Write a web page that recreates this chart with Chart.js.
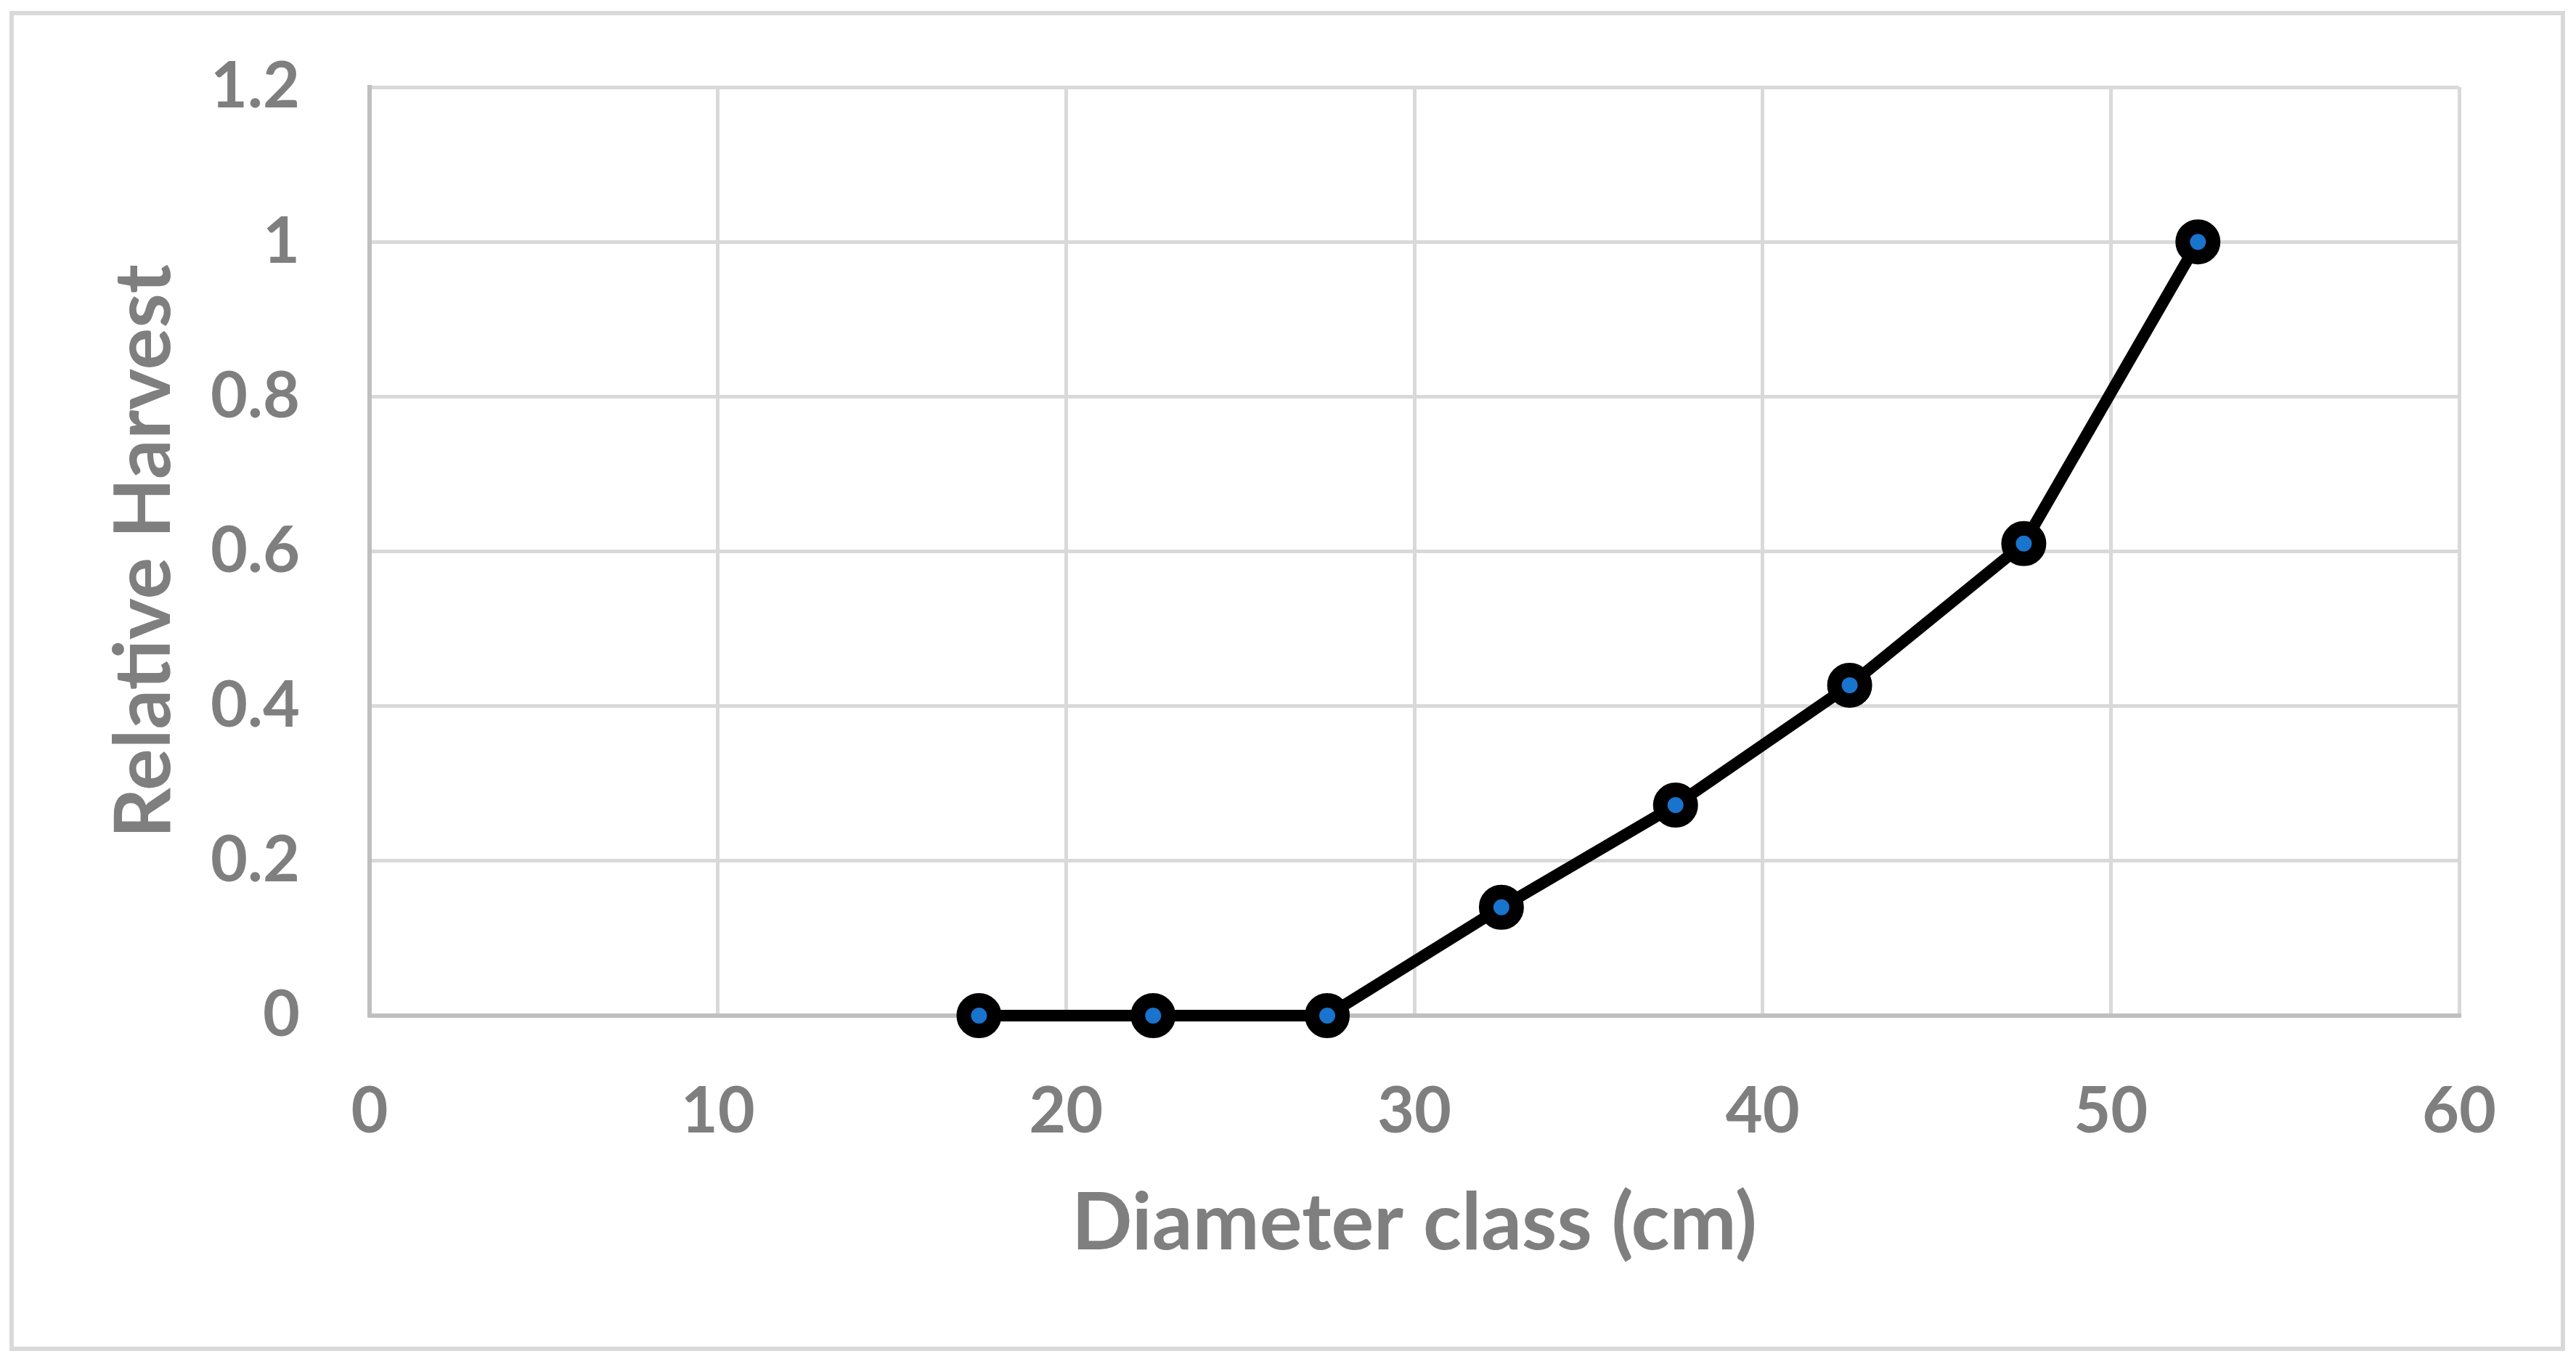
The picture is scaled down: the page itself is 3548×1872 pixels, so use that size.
<!DOCTYPE html>
<html>
<head>
<meta charset="utf-8">
<script src="https://cdn.jsdelivr.net/npm/chart.js@4/dist/chart.umd.min.js"></script>
<style>
  html, body { margin: 0; padding: 0; background: #fff; }
  #wrap { position: relative; width: 3548px; height: 1872px; }
  #frame {
    position: absolute; left: 13px; top: 15px; width: 3508px; height: 1834px;
    border: 6px solid #d9d9d9; pointer-events: none;
  }
  canvas { position: absolute; left: 0; top: 0; }
</style>
</head>
<body>
<div id="wrap">
  <canvas id="chart" width="3548" height="1872"></canvas>
  <div id="frame"></div>
</div>
<script>
const diameterClass = [17.5, 22.5, 27.5, 32.5, 37.5, 42.5, 47.5, 52.5];
const relativeHarvest = [0, 0, 0, 0.14, 0.272, 0.427, 0.61, 1.0];
const xTicks = [0, 10, 20, 30, 40, 50, 60];
const yTicks = ["0", "0.2", "0.4", "0.6", "0.8", "1", "1.2"];

const grey = "#7f7f7f";
const fontFamily = "Lato, 'Open Sans', sans-serif";

const points = diameterClass.map((d, i) => ({ x: d, y: relativeHarvest[i] }));

// tick marks are kept invisible; their length just spaces the labels off the axis
new Chart(document.getElementById("chart").getContext("2d"), {
  type: "scatter",
  data: {
    datasets: [{
      data: points,
      showLine: true,
      borderColor: "#000",
      borderWidth: 16,
      pointRadius: 21,
      pointBorderWidth: 20,
      pointBorderColor: "#000",
      pointBackgroundColor: "#1874cd",
      clip: false
    }]
  },
  options: {
    responsive: false,
    animation: false,
    layout: { padding: { left: 0, top: 120, right: 161, bottom: 0 } },
    plugins: { legend: { display: false }, tooltip: { enabled: false } },
    scales: {
      x: {
        type: "linear",
        min: xTicks[0],
        max: xTicks[xTicks.length - 1],
        afterBuildTicks: s => { s.ticks = xTicks.map(v => ({ value: v })); },
        afterFit: s => { s.height = 473; },
        grid: { color: "#d9d9d9", lineWidth: 5, tickLength: 80, tickColor: "rgba(0,0,0,0)" },
        border: { color: "#bfbfbf", width: 6 },
        ticks: {
          color: grey, padding: 0,
          font: { family: fontFamily, size: 88, weight: "bold" }
        },
        title: {
          display: true, text: "Diameter class (cm)", color: grey,
          padding: { top: 0, bottom: 120 },
          font: { family: fontFamily, size: 110, weight: "bold" }
        }
      },
      y: {
        min: 0,
        max: 1.2,
        afterBuildTicks: s => { s.ticks = yTicks.map(v => ({ value: Number(v) })); },
        afterFit: s => { s.width = 509; },
        grid: { color: "#d9d9d9", lineWidth: 5, tickLength: 96, tickColor: "rgba(0,0,0,0)" },
        border: { color: "#bfbfbf", width: 6 },
        ticks: {
          color: grey, padding: 0,
          callback: (v, i) => yTicks[i],
          font: { family: fontFamily, size: 88, weight: "bold" }
        },
        title: {
          display: true, text: "Relative Harvest", color: grey,
          padding: { top: 134, bottom: 0 },
          font: { family: fontFamily, size: 108, weight: "bold" }
        }
      }
    }
  }
});
</script>
</body>
</html>
